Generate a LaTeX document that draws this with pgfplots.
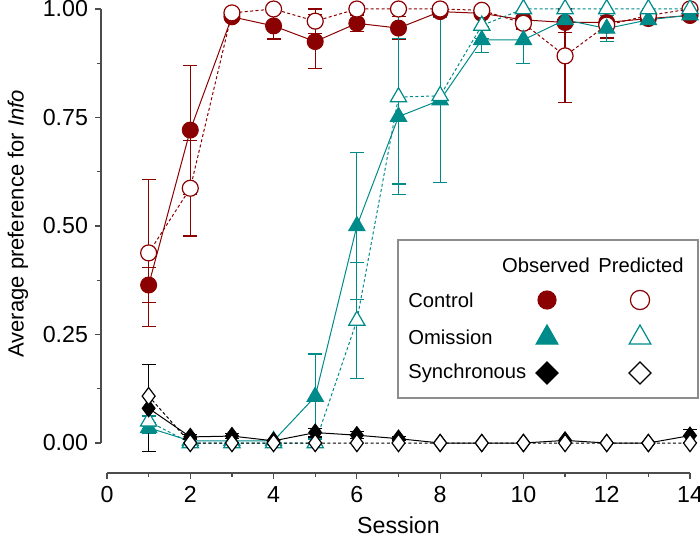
\documentclass[border=0pt]{standalone}
\usepackage{fontspec}
\setmainfont{Liberation Sans}
\usepackage{pgfplots}
\pgfplotsset{compat=1.18}
\definecolor{cred}{HTML}{8B0000}
\definecolor{cteal}{HTML}{008B8B}
\begin{document}
\begin{tikzpicture}[font=\fontsize{11.6}{14}\selectfont]
\begin{axis}[name=ax, scale only axis, width=291.5pt, height=217pt,
  xmin=0, xmax=14, ymin=0, ymax=1, enlargelimits=false, clip=false,
  axis lines=left, axis line style={-, black!70, line width=0.6pt},
  axis x line shift=15pt, axis y line shift=3pt,
  xtick={0,2,...,14}, minor xtick={1,3,...,13},
  ytick={0,0.25,0.5,0.75,1}, minor ytick={0.125,0.375,0.625,0.875},
  tick align=outside, major tick length=3pt, minor tick length=2pt,
  tick style={black!70, line width=0.6pt},
  yticklabel style={/pgf/number format/.cd, fixed, fixed zerofill, precision=2},
  /pgf/number format/assume math mode=true,
  xlabel={Session}, ylabel={Average preference for \textit{Info}},
  xlabel style={at={(axis description cs:0.5,-0.189)}, anchor=center},
  ylabel style={at={(axis description cs:-0.1527,0.505)}, anchor=center, font=\fontsize{11}{13}\selectfont},
  error bars/error bar style={line width=0.6pt},
  error bars/error mark options={rotate=90, mark size=3.5pt, line width=0.6pt},
]
% ---------- Control error bars ----------
\addplot[cred, forget plot, only marks, mark=none, error bars/.cd, y dir=both, y explicit]
coordinates {
(1,0.364) +- (0,0.04)
(2,0.721) +- (0,0.148)
(3,0.982) +- (0,0.01)
(4,0.961) +- (0,0.03)
(5,0.925) +- (0,0.063)
(6,0.967) +- (0,0.019)
(7,0.956) +- (0,0.026)
(8,0.994) +- (0,0.01)
(9,0.99) +- (0,0.01)
(10,0.975) +- (0,0.01)
(11,0.969) +- (0,0.023)
(12,0.969) +- (0,0.02)
(14,0.985) +- (0,0.01)
};
\addplot[cred, forget plot, only marks, mark=none, error bars/.cd, y dir=both, y explicit]
coordinates {
(1,0.438) +- (0,0.17)
(2,0.587) +- (0,0.11)
(5,0.972) +- (0,0.028)
(10,0.967) +- (0,0.013)
(11,0.892) +- (0,0.108)
(12,0.963) +- (0,0.03)
};
% ---------- Control data ----------
\addplot[cred, line width=0.5pt, mark=*, mark size=4pt, mark options={solid, fill=cred}]
coordinates {(1,0.364)(2,0.721)(3,0.982)(4,0.961)(5,0.925)(6,0.967)(7,0.956)(8,0.994)(9,0.99)(10,0.975)(11,0.969)(12,0.969)(13,0.978)(14,0.985)};
\addplot[cred, line width=0.5pt, dash pattern=on 1.5pt off 1.2pt, mark=*, mark size=4pt, mark options={solid, fill=white, line width=0.6pt}]
coordinates {(1,0.438)(2,0.587)(3,0.991)(4,1.0)(5,0.972)(6,1.0)(7,1.0)(8,1.0)(9,0.997)(10,0.967)(11,0.892)(12,0.963)(13,0.985)(14,1.0)};
% ---------- Omission error bars ----------
\addplot[cteal, forget plot, only marks, mark=none, error bars/.cd, y dir=both, y explicit]
coordinates {
(1,0.035) +- (0,0.012)
(5,0.107) +- (0,0.098)
(6,0.5) +- (0,0.17)
(7,0.752) +- (0,0.18)
(8,0.79) +- (0,0.19)
(9,0.929) +- (0,0.03)
(10,0.929) +- (0,0.055)
(12,0.955) +- (0,0.03)
};
\addplot[cteal, forget plot, only marks, mark=none, error bars/.cd, y dir=both, y explicit]
coordinates {
(1,0.05) +- (0,0.012)
(6,0.282) +- (0,0.133)
(7,0.797) +- (0,0.2)
(8,0.8) +- (0,0.2)
(9,0.962) +- (0,0.03)
};
% ---------- Omission data ----------
\addplot[cteal, line width=0.5pt, mark=triangle*, mark size=4.7pt, mark options={solid, fill=cteal}]
coordinates {(1,0.035)(2,0.005)(3,0.005)(4,0.005)(5,0.107)(6,0.5)(7,0.752)(8,0.79)(9,0.929)(10,0.929)(11,0.975)(12,0.955)(13,0.975)(14,0.986)};
\addplot[cteal, line width=0.5pt, dash pattern=on 1.5pt off 1.2pt, mark=triangle*, mark size=4.7pt, mark options={solid, fill=white, line width=0.6pt}]
coordinates {(1,0.05)(2,0.0)(3,0.0)(4,0.0)(5,0.0)(6,0.282)(7,0.797)(8,0.8)(9,0.962)(10,1.0)(11,1.0)(12,1.0)(13,1.0)(14,1.0)};
% ---------- Synchronous error bars ----------
\addplot[black, forget plot, only marks, mark=none, error bars/.cd, y dir=both, y explicit]
coordinates {
(1,0.08) +- (0,0.1)
(2,0.014) +- (0,0.005)
(3,0.016) +- (0,0.005)
(5,0.024) +- (0,0.01)
(6,0.018) +- (0,0.008)
(7,0.01) +- (0,0.005)
(14,0.017) +- (0,0.015)
};
% ---------- Synchronous data ----------
\addplot[black, line width=0.5pt, mark=diamond*, mark size=4.3pt, mark options={solid, fill=black}]
coordinates {(1,0.08)(2,0.014)(3,0.016)(4,0.005)(5,0.024)(6,0.018)(7,0.01)(8,0.0)(9,0.0)(10,0.0)(11,0.006)(12,0.0)(13,0.0)(14,0.017)};
\addplot[black, line width=0.5pt, dash pattern=on 1.5pt off 1.2pt, mark=diamond*, mark size=4.3pt, mark options={solid, fill=white, line width=0.6pt}]
coordinates {(1,0.108)(2,0.0)(3,0.0)(4,0.0)(5,0.0)(6,0.0)(7,0.0)(8,0.0)(9,0.0)(10,0.0)(11,0.0)(12,0.0)(13,0.0)(14,0.0)};
\end{axis}
% ---------- Legend ----------
\begin{scope}[shift={(ax.south west)}]
\draw[black!45, line width=0.6pt, fill=white] (145.5pt,22.5pt) rectangle (295.5pt,101.5pt);
\begin{scope}[font=\fontsize{10.1}{12}\selectfont]
\node at (219.5pt,89pt) {Observed};
\node at (267pt,89pt) {Predicted};
\node[anchor=west, inner sep=0pt] at (150.5pt,71.5pt) {Control};
\node[anchor=west, inner sep=0pt] at (150.5pt,53pt) {Omission};
\node[anchor=west, inner sep=0pt] at (150.5pt,35pt) {Synchronous};
\end{scope}
\fill[cred] (220pt,71.5pt) circle (4.8pt);
\draw[cred, line width=0.6pt, fill=white] (266.5pt,71.5pt) circle (4.8pt);
\draw[cteal, line width=0.6pt, fill=cteal] (220pt,59pt) -- (225.4pt,49.5pt) -- (214.6pt,49.5pt) -- cycle;
\draw[cteal, line width=0.6pt, fill=white] (266.5pt,59pt) -- (271.9pt,49.5pt) -- (261.1pt,49.5pt) -- cycle;
\draw[black, line width=0.6pt, fill=black] (220pt,40.5pt) -- (225.5pt,35pt) -- (220pt,29.5pt) -- (214.5pt,35pt) -- cycle;
\draw[black, line width=0.6pt, fill=white] (266.5pt,40.5pt) -- (272pt,35pt) -- (266.5pt,29.5pt) -- (261pt,35pt) -- cycle;
\end{scope}
\pgfresetboundingbox
\path ([shift={(-53.5pt,-49pt)}]ax.south west) rectangle ([shift={(296.5pt,221.5pt)}]ax.south west);
\end{tikzpicture}
\end{document}
